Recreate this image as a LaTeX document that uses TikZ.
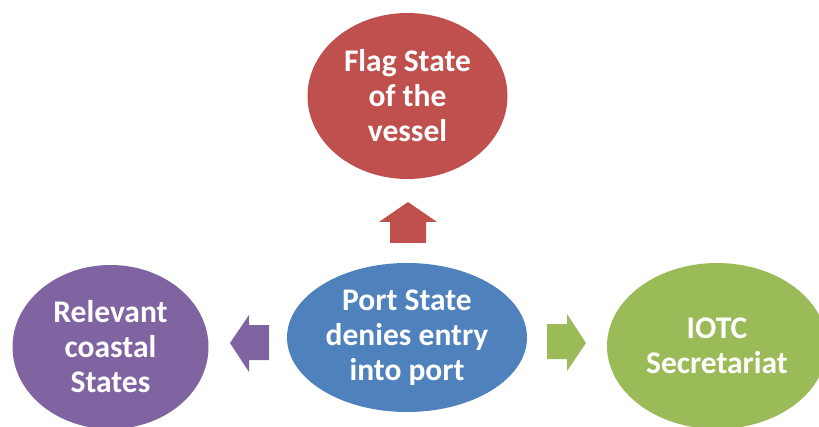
\documentclass[tikz,border=0pt]{standalone}
\usepackage{fontspec}
\setmainfont{Carlito}
\usetikzlibrary{shapes.geometric}
\definecolor{flagred}{HTML}{C0504D}
\definecolor{portblue}{HTML}{4F81BD}
\definecolor{coastpurple}{HTML}{8064A2}
\definecolor{iotcgreen}{HTML}{9BBB59}
\tikzset{
  bubble/.style={ellipse, inner sep=0pt, text=white, align=center,
    font=\bfseries\fontsize{31.5}{35}\selectfont},
  blockarrow/.style={draw=none}
}
\begin{document}
\begin{tikzpicture}[x=1pt,y=1pt]
\useasboundingbox (0,0) rectangle (819,426);
\clip (0,0) rectangle (819,426);
% the four bubbles
\node[bubble, fill=flagred, minimum width=200pt, minimum height=166pt] (flag) at (407.5,330) {Flag State\\of the\\vessel};
\node[bubble, fill=portblue, minimum width=240pt, minimum height=149pt] (port) at (407,88.5) {Port State\\denies entry\\into port};
\node[bubble, fill=coastpurple, minimum width=196pt, minimum height=164pt] (coast) at (110.5,79) {Relevant\\coastal\\States};
\node[bubble, fill=iotcgreen, minimum width=220pt, minimum height=166pt] (iotc) at (717,80) {IOTC\\Secretariat};
% block arrows
\fill[blockarrow, flagred] (390,183) -- (426,183) -- (426,204) -- (437,204) -- (408,224) -- (379,204) -- (390,204) -- cycle;
\fill[blockarrow, coastpurple] (269,101) -- (249,101) -- (249,111) -- (230,83) -- (249,54) -- (249,66) -- (269,66) -- cycle;
\fill[blockarrow, iotcgreen] (547,102) -- (567,102) -- (567,112) -- (586,83) -- (567,55) -- (567,67) -- (547,67) -- cycle;
\end{tikzpicture}
\end{document}
